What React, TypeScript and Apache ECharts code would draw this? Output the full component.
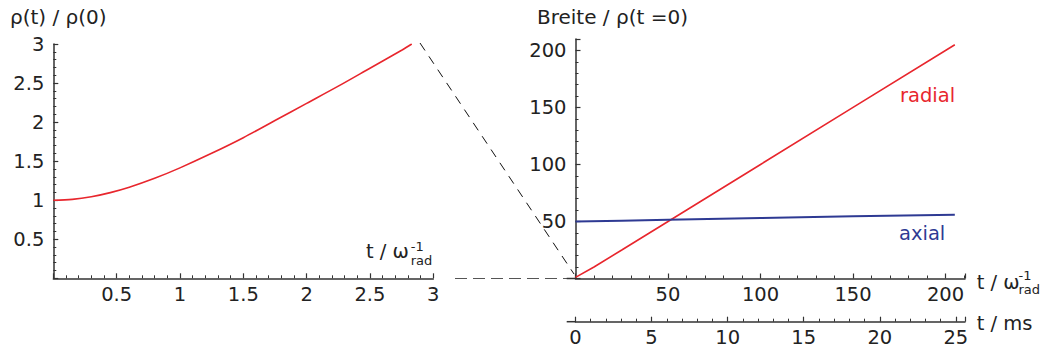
import React, { useEffect, useRef } from "react";
import * as echarts from "echarts";

// Left panel: rho(t)/rho(0) vs t / omega_rad^-1
const leftT = [0, 0.15, 0.3, 0.45, 0.6, 0.8, 1, 1.25, 1.5, 1.75, 2, 2.25, 2.5, 2.75, 2.83];
const leftRho = [1.0, 1.011, 1.044, 1.097, 1.166, 1.28, 1.414, 1.6, 1.8, 2.02, 2.24, 2.46, 2.69, 2.92, 3.0];

// Right panel: Breite / rho(t=0)
const radialT = [0, 10, 25, 50, 100, 150, 205];
const radialW = [1, 10.1, 25, 50, 100, 150, 205];
const axialT = [0, 25, 50, 100, 150, 205];
const axialW = [50, 50.7, 51.5, 53.0, 54.5, 55.8];

// Tick labels
const leftXTicks = ["0.5", "1", "1.5", "2", "2.5", "3"];
const leftYTicks = ["0.5", "1", "1.5", "2", "2.5", "3"];
const rightXTicks = ["50", "100", "150", "200"];
const rightYTicks = ["50", "100", "150", "200"];
const msTicks = ["0", "5", "10", "15", "20", "25"];

const FONT = '"DejaVu Sans", Verdana, sans-serif';
const TXT = "#222";
const AX = "#333";
const RED = "#e8262d";
const BLUE = "#2e3a93";

const fmt = (list: string[]) => (v: number) => (list.includes(String(v)) ? String(v) : "");

function axisCommon(labels: string[], isX: boolean) {
  return {
    type: "value",
    axisLine: { show: true, onZero: false, lineStyle: { color: AX, width: 1.5 } },
    axisTick: { show: true, inside: true, length: 5, lineStyle: { color: AX, width: 1.2 } },
    minorTick: { show: true, splitNumber: 5, length: 3, lineStyle: { color: AX, width: 1 } },
    splitLine: { show: false },
    minorSplitLine: { show: false },
    axisLabel: {
      formatter: fmt(labels),
      color: TXT,
      fontFamily: FONT,
      fontSize: 19.5,
      margin: isX ? 6 : 9,
      showMinLabel: true,
      showMaxLabel: true,
    },
  };
}

function txt(text: string, x: number, y: number, size: number, color = TXT) {
  return {
    type: "text",
    x,
    y,
    silent: true,
    style: {
      text,
      fill: color,
      fontSize: size,
      fontFamily: FONT,
      align: "left",
      verticalAlign: "middle",
    },
  };
}

export default function App() {
  const ref = useRef<HTMLDivElement>(null);
  useEffect(() => {
    if (!ref.current) return;
    const chart = echarts.init(ref.current, undefined, { renderer: "svg" });
    chart.setOption({
      animation: false,
      backgroundColor: "#fff",
      grid: [
        { left: 53.3, top: 44, width: 380, height: 234.3 },
        { left: 575.5, top: 39, width: 389.5, height: 239.5 },
      ],
      xAxis: [
        { ...axisCommon(leftXTicks, true), gridIndex: 0, min: 0, max: 3, interval: 0.5 },
        { ...axisCommon(rightXTicks, true), gridIndex: 1, min: 0, max: 210.5, interval: 50 },
        {
          ...axisCommon(msTicks, true),
          gridIndex: 1,
          position: "bottom",
          offset: 43.2,
          min: 0,
          max: 25.6,
          interval: 5,
        },
      ],
      yAxis: [
        { ...axisCommon(leftYTicks, false), gridIndex: 0, min: 0, max: 3, interval: 0.5 },
        { ...axisCommon(rightYTicks, false), gridIndex: 1, min: 0, max: 210, interval: 50 },
      ],
      series: [
        {
          type: "line",
          xAxisIndex: 0,
          yAxisIndex: 0,
          data: leftT.map((t, i) => [t, leftRho[i]]),
          smooth: 0.3,
          showSymbol: false,
          lineStyle: { color: RED, width: 1.6 },
        },
        {
          type: "line",
          xAxisIndex: 1,
          yAxisIndex: 1,
          data: radialT.map((t, i) => [t, radialW[i]]),
          showSymbol: false,
          lineStyle: { color: RED, width: 1.6 },
        },
        {
          type: "line",
          xAxisIndex: 1,
          yAxisIndex: 1,
          data: axialT.map((t, i) => [t, axialW[i]]),
          showSymbol: false,
          lineStyle: { color: BLUE, width: 2 },
        },
      ],
      graphic: [
        {
          type: "line",
          silent: true,
          shape: { x1: 420, y1: 43, x2: 574, y2: 274 },
          style: { stroke: "#111", lineWidth: 1, lineDash: [9, 7] },
        },
        {
          type: "line",
          silent: true,
          shape: { x1: 455, y1: 278.5, x2: 572, y2: 278.5 },
          style: { stroke: "#555", lineWidth: 1.2, lineDash: [12, 6] },
        },
        {
          type: "line",
          silent: true,
          shape: { x1: 566.7, y1: 278.5, x2: 576, y2: 278.5 },
          style: { stroke: AX, lineWidth: 1.5 },
        },
        {
          type: "line",
          silent: true,
          shape: { x1: 566.7, y1: 321.7, x2: 576, y2: 321.7 },
          style: { stroke: AX, lineWidth: 1.5 },
        },
        txt("ρ(t) / ρ(0)", 10, 17, 20),
        txt("Breite / ρ(t =0)", 537, 17, 20),
        txt("t / ω", 366, 251.7, 19.5),
        txt("-1", 410.7, 246, 13),
        txt("rad", 410.7, 260.5, 13),
        txt("t / ω", 976.7, 282.7, 19.5),
        txt("-1", 1018.5, 275, 13),
        txt("rad", 1018.5, 289.5, 13),
        txt("t / ms", 976.7, 323.4, 19.5),
        txt("radial", 900, 95, 19.5, RED),
        txt("axial", 899, 233.4, 19.5, BLUE),
      ],
    });
    return () => chart.dispose();
  }, []);
  return (
    <div
      ref={ref}
      style={{ position: "fixed", left: 0, top: 0, width: 1054, height: 354, background: "#fff" }}
    />
  );
}
